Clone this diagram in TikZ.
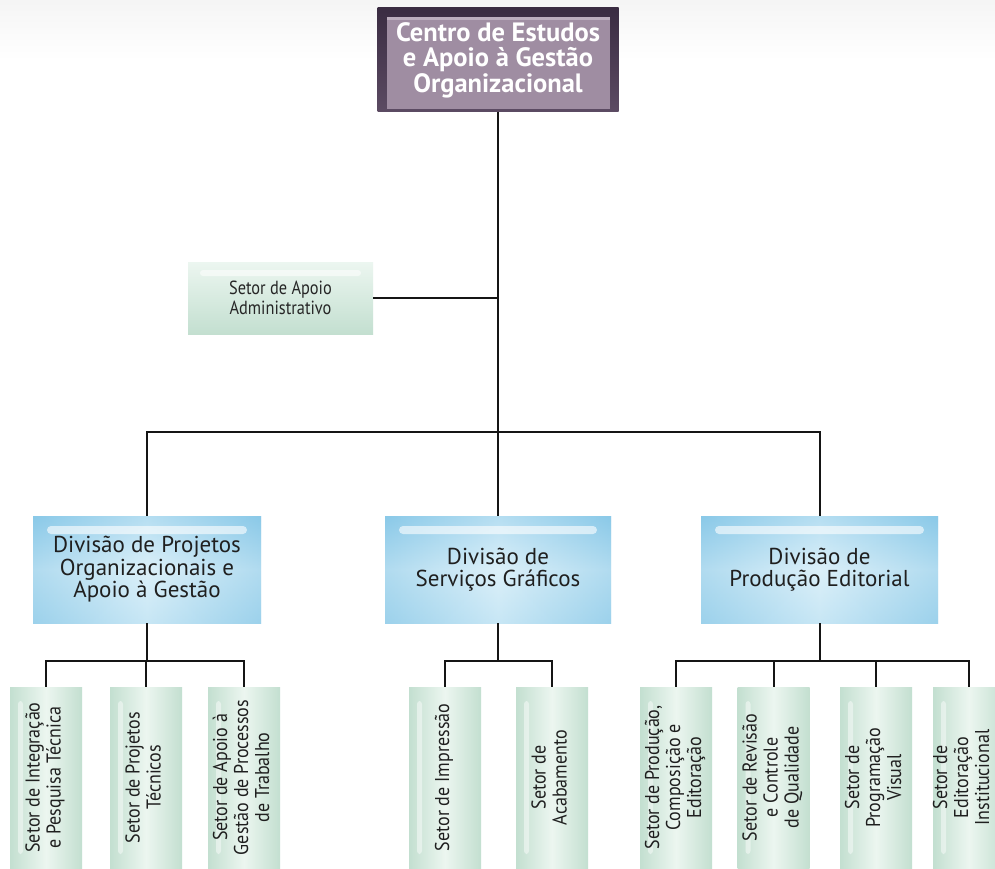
\documentclass[tikz,border=0pt]{standalone}
\usepackage{graphicx}
\usepackage{fontspec}
\setmainfont{PT Sans}
\newfontfamily\condfont[FakeStretch=0.86]{PT Sans}
\newfontfamily\sidefont[FakeStretch=0.9]{PT Sans}
\usetikzlibrary{calc}

% palette
\definecolor{wire}{HTML}{151515}
\definecolor{plumdark}{HTML}{3A2C42}
\definecolor{plumlight}{HTML}{5C4B63}
\definecolor{mauve}{HTML}{9F8DA2}
\definecolor{mauvelight}{HTML}{BCAEBE}
\definecolor{skyedge}{HTML}{86C7E7}
\definecolor{skytop}{HTML}{8FCCEA}
\definecolor{skymid}{HTML}{DCF0F9}
\definecolor{skybot}{HTML}{B3DDF1}
\definecolor{mintedge}{HTML}{C3DFD0}
\definecolor{mintmid}{HTML}{ECF6F0}

\tikzset{
  headbox/.style={minimum width=241pt, minimum height=104pt, inner sep=0pt,
    top color=plumdark, bottom color=plumlight, align=center, text=white,
    font=\bfseries\fontsize{26.5}{25.5}\selectfont,
    path picture={
      \fill[mauve] ($(path picture bounding box.north west)+(9,9)$) rectangle
                   ($(path picture bounding box.south east)+(-9,-3)$);
      \fill[mauvelight] ($(path picture bounding box.north west)+(9,9)$) rectangle
                   ($(path picture bounding box.north east)+(-9,12)$);
    }},
  adminbox/.style={minimum width=185pt, minimum height=72pt, inner sep=0pt,
    top color=mintmid, bottom color=mintedge, align=center, text=black!85,
    font=\condfont\fontsize{19}{20}\selectfont,
    path picture={
      \fill[white, opacity=0.55, rounded corners=3pt]
        ($(path picture bounding box.north west)+(12,8)$) rectangle
        ($(path picture bounding box.north east)+(-12,14)$);
    }},
  divbox/.style={minimum height=107pt, inner sep=0pt,
    top color=skytop, bottom color=skybot, middle color=skymid,
    align=center, text=black!88, font=\fontsize{23}{22.5}\selectfont,
    path picture={
      \shade[left color=skyedge, right color=skyedge, middle color=skymid, opacity=0.5]
        (path picture bounding box.south west) rectangle (path picture bounding box.north east);
      \fill[white, opacity=0.6, rounded corners=4pt]
        ($(path picture bounding box.north west)+(14,10)$) rectangle
        ($(path picture bounding box.north east)+(-14,18)$);
    }},
  sidetext/.style={text=black!88, font=\sidefont\fontsize{20}{21}\selectfont},
  sectorbox/.style={minimum width=72pt, minimum height=181pt, inner sep=0pt,
    left color=mintedge, right color=mintedge, middle color=mintmid, sidetext,
    path picture={
      \fill[white, opacity=0.45, rounded corners=3pt]
        ($(path picture bounding box.north west)+(8,14)$) rectangle
        ($(path picture bounding box.south west)+(13,-14)$);
    }},
  link/.style={draw=wire, line width=2pt}
}

\newcommand{\vlabel}[1]{\rotatebox{90}{\begin{tabular}{@{}c@{}}#1\end{tabular}}}

\begin{document}
\begin{tikzpicture}[x=1pt, y=-1pt]
  \useasboundingbox (0,0) rectangle (995,869);
  \fill[white] (0,0) rectangle (995,869);
  \fill[top color=black!4, bottom color=white] (0,0) rectangle (995,60);

  % head unit
  \node[headbox] (top) at (498,60) {Centro de Estudos\\e Apoio à Gestão\\Organizacional};

  % staff unit
  \node[adminbox] (admin) at (280.5,298) {Setor de Apoio\\Administrativo};

  % divisions
  \node[divbox, minimum width=228pt] (div1) at (147,569.5) {Divisão de Projetos\\Organizacionais e\\Apoio à Gestão};
  \node[divbox, minimum width=226pt] (div2) at (498,569.5) {Divisão de\\Serviços Gráficos};
  \node[divbox, minimum width=237pt] (div3) at (819.5,569.5) {Divisão de\\Produção Editorial};

  % sectors
  \node[sectorbox] (s1) at (46,777.5)  {\vlabel{Setor de Integração\\e Pesquisa Técnica}};
  \node[sectorbox] (s2) at (146,777.5) {\vlabel{Setor de Projetos\\Técnicos}};
  \node[sectorbox] (s3) at (244,777.5) {\vlabel{Setor de Apoio à\\Gestão de Processos\\de Trabalho}};
  \node[sectorbox] (s4) at (445,777.5) {\vlabel{Setor de Impressão}};
  \node[sectorbox] (s5) at (552,777.5) {\vlabel{Setor de\\Acabamento}};
  \node[sectorbox] (s6) at (676,777.5) {\vlabel{Setor de Produção,\\Composição e\\Editoração}};
  \node[sectorbox] (s7) at (773.5,777.5) {\vlabel{Setor de Revisão\\e Controle\\de Qualidade}};
  \node[sectorbox] (s8) at (876,777.5) {\vlabel{Setor de\\Programação\\Visual}};
  \node[sectorbox] (s9) at (969,777.5) {};
  \node[sidetext] (s9text) at (964,777.5) {\vlabel{Setor de\\Editoração\\Institucional}};

  % junction points
  \coordinate (bus) at (498,432);
  \coordinate (f1) at (div1.south |- 0,661);
  \coordinate (f2) at (div2.south |- 0,661);
  \coordinate (f3) at (div3.south |- 0,661);

  % main trunk
  \draw[link] (top.south) -- (div2.north);
  \draw[link] (admin.east) -- (admin.east -| top.south);
  \draw[link] (div1.north) |- (bus) -| (div3.north);

  % first division
  \draw[link] (div1.south) -- (f1);
  \draw[link] (s1.north) |- (f1) -| (s3.north);
  \draw[link] (s2.north) -- (s2.north |- f1);

  % second division
  \draw[link] (div2.south) -- (f2);
  \draw[link] (s4.north) |- (f2) -| (s5.north);

  % third division
  \draw[link] (div3.south) -- (f3);
  \draw[link] (s6.north) |- (f3) -| (s9.north);
  \draw[link] (s7.north) -- (s7.north |- f3);
  \draw[link] (s8.north) -- (s8.north |- f3);
\end{tikzpicture}
\end{document}
